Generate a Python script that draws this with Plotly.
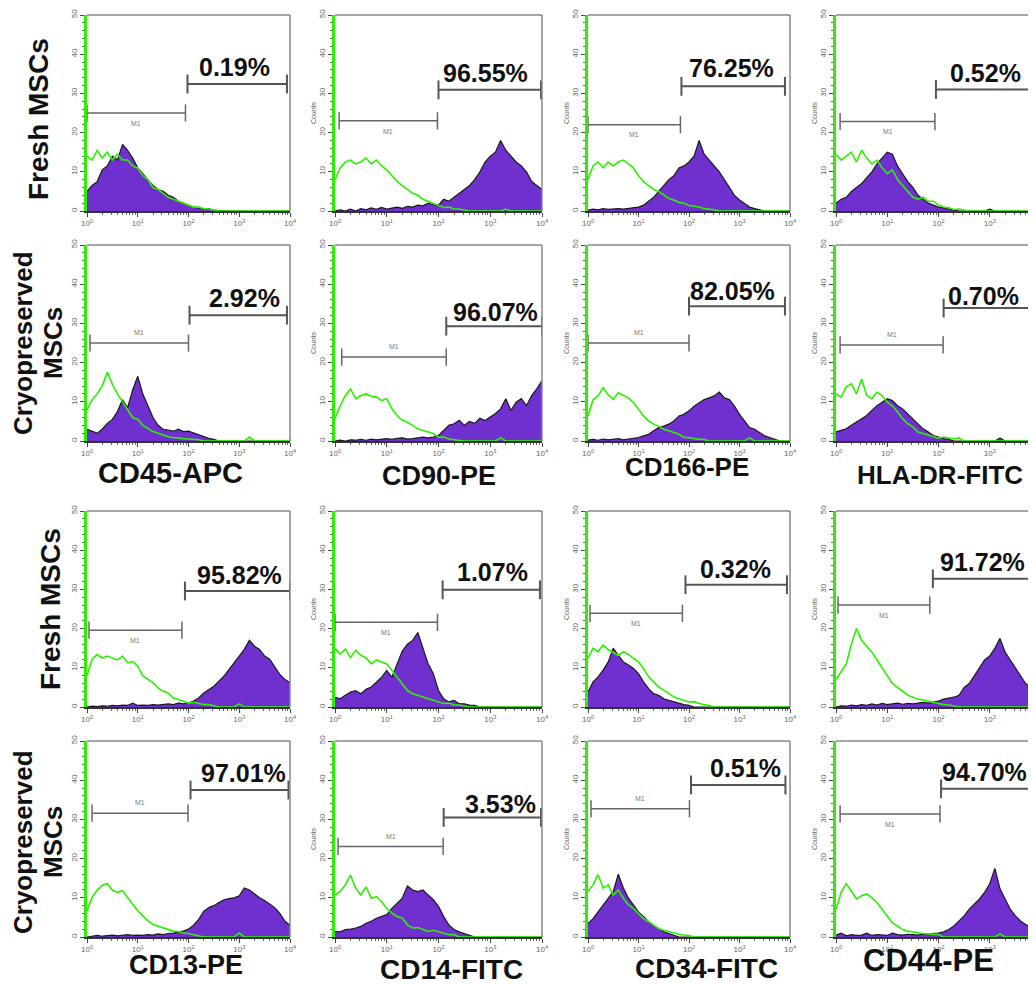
import plotly.graph_objects as go

# page is shown with the browser's default 8px body margin -> compensate
PAGE_W, PAGE_H = 1036, 984
OFF = 8
W, H = PAGE_W - OFF, PAGE_H - OFF

# ---------------- data ----------------
# histogram bins: log10 fluorescence 0.0 .. 4.0 in steps of 0.1
LOG_BINS = [i / 10 for i in range(41)]

markers = ["CD45-APC", "CD90-PE", "CD166-PE", "HLA-DR-FITC",
           "CD13-PE", "CD14-FITC", "CD34-FITC", "CD44-PE"]
conditions = ["Fresh MSCs", "Cryopreserved", "MSCs"]
x_tick_vals = [1, 10, 100, 1000, 10000]
x_tick_text = ["10<sup>0</sup>", "10<sup>1</sup>", "10<sup>2</sup>", "10<sup>3</sup>", "10<sup>4</sup>"]
y_tick_vals = [0, 10, 20, 30, 40, 50]

percent_labels = ["0.19%", "96.55%", "76.25%", "0.52%",
                  "2.92%", "96.07%", "82.05%", "0.70%",
                  "95.82%", "1.07%", "0.32%", "91.72%",
                  "97.01%", "3.53%", "0.51%", "94.70%"]

# M1 gate (log10 start, log10 end, count level) per panel
m1_gates = [(0.0, 1.94, 25), (0.08, 1.98, 23), (0.0, 1.83, 22), (0.08, 1.93, 22.8),
            (0.06, 2.0, 25), (0.13, 2.15, 21.4), (0.0, 2.0, 25), (0.08, 2.09, 24.5),
            (0.04, 1.87, 19.6), (0.0, 1.98, 21.6), (0.04, 1.87, 23.9), (0.04, 1.83, 26),
            (0.1, 1.99, 31.6), (0.06, 2.09, 23.1), (0.06, 2.01, 32.7), (0.08, 2.03, 31.4)]
# positive gate (log10 start, log10 end, level) per panel
pos_gates = [(1.98, 3.94, 32.4), (2.0, 3.98, 30.9), (1.85, 3.9, 31.8), (1.95, 3.86, 31),
             (2.02, 3.94, 32.1), (2.15, 4.0, 29.3), (2.0, 3.9, 34.4), (2.1, 3.95, 33.9),
             (1.93, 4.0, 29.6), (2.08, 3.96, 29.9), (1.93, 3.94, 31.2), (1.89, 3.95, 32.7),
             (2.04, 3.97, 37.5), (2.1, 3.98, 30.5), (2.04, 3.91, 38.8), (2.05, 3.95, 37.8)]

# stained sample (purple) and isotype control (green) counts
cd45_fresh_stained = [
    5, 6.5, 7.5, 10.5, 11.5, 14, 13, 17, 15.5, 13.5,
    11, 9.5, 8, 6.5, 5.5, 5, 4, 3.5, 2.5, 2,
    1.5, 1, 0.8, 0.5, 0.6, 0.2, 0.1, 0, 0, 0,
    0, 0, 0, 0, 0, 0, 0, 0, 0, 0, 0]
cd45_fresh_control = [
    14, 13, 15.5, 13.5, 15, 13, 14.5, 13, 13, 11.5,
    11, 9, 8, 6, 5.5, 4.5, 3.5, 3, 2.5, 2,
    1.5, 1, 1, 0.6, 0.5, 0.3, 0, 0, 0, 0,
    0, 0, 0, 0, 0, 0, 0, 0, 0, 0, 0]
cd90_fresh_stained = [
    0, 0.3, 0, 0.5, 0, 0.6, 0.3, 0.8, 0.4, 0.9,
    0.5, 0.8, 1, 0.7, 1.2, 1, 1.5, 1.3, 2, 1.6,
    1.5, 3, 2.5, 3.5, 4.5, 5.5, 6.5, 8, 10, 12.5,
    14, 15, 18, 15.5, 14, 12.5, 11.5, 10, 7.5, 6.5, 5.5]
cd90_fresh_control = [
    8, 11, 12.5, 13, 12, 12.5, 13.5, 12, 13, 11.5,
    10.5, 9, 7.5, 6.5, 5.5, 4.5, 4, 3, 2.5, 2,
    1.5, 0.9, 1, 0.5, 0.5, 0.3, 0, 0, 0, 0,
    0, 0, 0, 0.5, 0, 0, 0, 0, 0, 0, 0]
cd166_fresh_stained = [
    0.2, 0.5, 0.3, 0.6, 0.4, 0.5, 0.6, 0.5, 0.7, 0.9,
    1, 1.5, 2.5, 3.5, 5, 6.5, 8, 9, 11, 11.5,
    12.5, 14, 18, 14.5, 13, 11.5, 10, 8, 6, 4,
    2.8, 1.8, 1, 0.6, 0.3, 0, 0, 0, 0, 0, 0]
cd166_fresh_control = [
    8, 11.5, 12.5, 11, 12.5, 11.5, 12.5, 13, 12, 11,
    9, 7.5, 6.5, 5.5, 5, 4, 3.2, 2.8, 2.2, 2,
    1.4, 1.2, 1, 0.6, 0.5, 0.3, 0, 0, 0, 0,
    0, 0, 0, 0, 0, 0, 0, 0, 0, 0, 0]
hladr_fresh_stained = [
    2, 3, 3.5, 5, 6, 7, 8.5, 10, 12, 13.5,
    15, 14.5, 11.5, 9.5, 7.5, 6, 4, 3, 2, 1.5,
    1, 0.8, 0.4, 0.2, 0, 0, 0, 0, 0, 0,
    0.5, 0, 0, 0, 0, 0, 0, 0, 0, 0, 0]
hladr_fresh_control = [
    14.5, 13, 14, 15, 12.5, 15.5, 13.5, 12, 13, 11,
    9.5, 10.5, 8, 6.5, 5, 3.5, 3, 3.5, 2.5, 2.5,
    1.5, 1, 0.8, 0.4, 0.5, 0.2, 0, 0, 0, 0,
    0, 0, 0, 0, 0, 0, 0, 0, 0, 0, 0]
cd45_cryo_stained = [
    3, 2.5, 2, 3, 4.5, 5.5, 7.5, 10.5, 8.5, 13,
    16.5, 12, 9, 6, 4, 3, 2.8, 2.5, 3, 2.4,
    2.5, 2, 1.5, 1.2, 0.7, 0.4, 0, 0, 0, 0,
    0, 0, 0, 0, 0, 0, 0, 0, 0, 0, 0]
cd45_cryo_control = [
    8, 10.5, 12, 14, 17.5, 14.5, 12, 10, 8, 6,
    5.5, 4, 3.2, 2.4, 2, 1.5, 1.1, 0.9, 0.7, 0.6,
    0.5, 0.4, 0.3, 0, 0, 0, 0, 0, 0, 0,
    0, 0, 1, 0, 0, 0, 0, 0, 0, 0, 0]
cd90_cryo_stained = [
    0, 0.2, 0, 0.3, 0.2, 0.4, 0.2, 0.5, 0.3, 0.5,
    0.6, 0.4, 0.7, 0.8, 0.5, 0.6, 0.8, 1, 0.8, 1,
    1.4, 2.7, 4, 4.4, 5.3, 4, 5, 4.5, 5.8, 5.2,
    6.1, 7, 8.2, 10.8, 7.8, 9.9, 10.8, 9, 11.6, 13.3, 15.4]
cd90_cryo_control = [
    5.7, 9, 11.6, 13.3, 10.8, 11.6, 12, 11.4, 11.2, 10.3,
    10.8, 8.2, 6.5, 5.3, 4.8, 4, 3.1, 2.7, 2.3, 1.9,
    1, 1, 0.5, 0.3, 0.2, 0, 0, 0, 0, 0,
    0, 0, 0.8, 0, 0, 0, 0, 0, 0, 0, 0]
cd166_cryo_stained = [
    0.2, 0.4, 0.2, 0.5, 0.3, 0.4, 0.6, 0.3, 0.5, 0.7,
    0.9, 1.3, 1.7, 2.6, 3.4, 3.8, 4.3, 5.1, 6.4, 6.8,
    7.7, 8.9, 9.8, 10.6, 11, 11.5, 12.5, 11, 10.6, 8.9,
    6.8, 5.1, 3.4, 3, 2.1, 1.3, 0.9, 0.4, 0, 0, 0]
cd166_cryo_control = [
    6.4, 10.5, 11.5, 13.6, 11.8, 10.6, 12.3, 11.6, 11, 9.8,
    8, 6.4, 5.1, 4.3, 3.8, 3, 2.6, 2.1, 1.7, 0.9,
    0.9, 0.6, 0.5, 0.4, 0, 0, 0, 0, 0, 0,
    0, 0, 0.8, 0, 0, 0, 0, 0, 0, 0, 0]
hladr_cryo_stained = [
    2.3, 2.7, 3.1, 4, 4.8, 5.7, 6.5, 7.8, 9, 9.9,
    10.8, 10.3, 9, 8.2, 6.9, 5.7, 4.4, 3.1, 2.3, 1.4,
    1, 0.6, 0.4, 0, 0, 0, 0, 0, 0, 0,
    0, 0, 0.8, 0, 0, 0, 0, 0, 0, 0, 0]
hladr_cryo_control = [
    12, 11.2, 13.8, 14.6, 12, 15.8, 11.6, 10.8, 12.5, 11.6,
    9.9, 9, 7.4, 5.7, 4.4, 3.6, 2.3, 1.9, 1.4, 1,
    0.7, 1, 0.7, 0.5, 0.8, 0, 0, 0, 0, 0,
    0, 0, 0, 0, 0, 0, 0, 0, 0, 0, 0]
cd13_fresh_stained = [
    0, 0.2, 0.1, 0.3, 0.2, 0.4, 0.3, 0.5, 0.4, 1,
    0.4, 0.5, 0.4, 0.6, 0.5, 0.7, 0.8, 0.6, 1, 0.8,
    1, 1.5, 2.3, 3.6, 4.5, 5.3, 6.6, 7.9, 9.6, 11.3,
    13, 14.7, 17, 15.5, 14.7, 13, 12.2, 10.4, 8.3, 7, 6.2]
cd13_fresh_control = [
    8, 12.2, 13.4, 12.5, 13, 12.4, 12, 13, 11.3, 11.6,
    10.4, 7.9, 7, 6.2, 4.9, 4, 3.6, 2.3, 1.9, 1.5,
    1, 1.2, 0.8, 0.6, 0.6, 0.3, 0, 0, 0, 0,
    0.8, 0, 0, 0, 0, 0, 0, 0, 0, 0, 0]
cd14_fresh_stained = [
    2.5, 2.1, 3, 3.8, 4.2, 3.4, 4.5, 5.1, 6.3, 7.6,
    9.3, 7.6, 11, 14.3, 16, 17, 19, 15.2, 11, 8.5,
    4.2, 2.1, 1.3, 1.7, 0.8, 0.8, 0.5, 0.4, 0, 0,
    0, 0, 0, 0, 0, 0, 0, 0, 0, 0, 0]
cd14_fresh_control = [
    15, 13.5, 14.8, 12.6, 14.5, 13.2, 12.5, 11, 12, 11.4,
    11, 9.3, 7.6, 5.9, 4.2, 3.4, 3, 2.5, 2.1, 1.7,
    1.3, 0.9, 1, 0.5, 0.5, 0.2, 0, 0, 0, 0,
    0, 0, 0, 0, 0, 0, 0, 0, 0, 0, 0]
cd34_fresh_stained = [
    3.8, 6.4, 7.7, 9.4, 11.5, 15, 13.2, 11.5, 10.7, 9.8,
    8.5, 6.4, 4.7, 3.4, 3, 2.1, 1.7, 1.3, 0.9, 0.6,
    0.4, 0, 0, 0, 0, 0, 0, 0, 0, 0,
    0, 0, 0, 0, 0, 0, 0, 0, 0, 0, 0]
cd34_fresh_control = [
    12.4, 15, 14.1, 15.8, 14.6, 14, 13.2, 14.1, 13.4, 12.4,
    11.5, 9.8, 7.7, 6.4, 5.1, 4.3, 3.4, 2.6, 2.1, 1.7,
    1.3, 1.3, 0.9, 0.6, 0.4, 0, 0, 0, 0, 0,
    0, 0, 0, 0, 0, 0, 0, 0, 0, 0, 0]
cd44_fresh_stained = [
    0, 0.3, 0.2, 0.5, 0.3, 0.6, 0.4, 0.8, 0.5, 0.9,
    0.6, 0.8, 1, 0.7, 0.9, 0.8, 1, 1.2, 1, 1.3,
    1.5, 2, 2.2, 2.5, 3, 5, 6, 8, 10, 12,
    13, 15, 17.5, 14, 12, 10, 8, 6, 5, 4, 3]
cd44_fresh_control = [
    7, 9, 11, 16, 20, 17, 15.5, 14, 12, 10,
    8, 6, 5, 4, 3, 2.5, 2, 1.8, 1.5, 1.2,
    1, 0.6, 0.5, 0.3, 0, 0, 0, 0, 0, 0,
    0, 0, 0, 0, 0, 0, 0, 0, 0, 0, 0]
cd13_cryo_stained = [
    0, 0.2, 0.4, 0.2, 0.3, 0.5, 0.3, 0.4, 0.6, 0.4,
    0.5, 0.4, 0.6, 0.5, 0.8, 0.6, 0.9, 1, 1.2, 1.5,
    2, 3, 4.5, 6.5, 7.5, 8, 8.8, 9.5, 9.8, 10,
    10.5, 12.5, 12, 11, 10, 9.3, 8.5, 7.5, 6, 4, 3]
cd13_cryo_control = [
    6.7, 10.1, 11.9, 13.2, 13.6, 11.9, 11.4, 11.8, 10.1, 8.4,
    6.7, 5.4, 4.1, 3.2, 2.8, 2.3, 1.9, 1.5, 1.4, 1,
    0.9, 0.6, 0.4, 0, 0, 0, 0, 0, 0, 0,
    1, 0, 0, 0, 0, 0, 0, 0, 0, 0, 0]
cd14_cryo_stained = [
    1.4, 1.3, 1.9, 2, 2.3, 2.7, 3.5, 4, 4.8, 5.2,
    5.7, 7.3, 8.6, 9.9, 13, 12, 11.6, 12, 10.7, 9.5,
    7.8, 5.2, 3.1, 1.9, 1.3, 0.8, 0.4, 0, 0, 0,
    0, 0, 0, 0, 0, 0, 0, 0, 0, 0, 0]
cd14_cryo_control = [
    10.7, 11.6, 13.3, 15.8, 12.4, 10.7, 12.8, 9.9, 10.3, 9,
    7.3, 6.1, 5.2, 4.8, 3.1, 2.3, 2.4, 1.9, 1.4, 1.7,
    1.3, 1, 0.6, 0.6, 0, 0, 0, 0, 0, 0,
    0, 0, 0, 0, 0, 0, 0, 0, 0, 0, 0]
cd34_cryo_stained = [
    3.4, 4.7, 6.4, 8.2, 9.9, 11.6, 16, 12.5, 9.9, 8.2,
    6.4, 5.2, 3.9, 3, 2.1, 1.3, 0.9, 0.5, 0, 0,
    0, 0, 0, 0, 0, 0, 0, 0, 0, 0,
    0, 0, 0, 0, 0, 0, 0, 0, 0, 0, 0]
cd34_cryo_control = [
    11.6, 13.3, 15.9, 12.5, 13.3, 10.7, 12, 9.9, 8.2, 7.3,
    6, 4.7, 3.9, 3, 2.1, 1.7, 1.3, 0.9, 0.7, 0.5,
    0.4, 0, 0, 0, 0, 0, 0, 0, 0, 0,
    0, 0, 0, 0, 0, 0, 0, 0, 0, 0, 0]
cd44_cryo_stained = [
    0.5, 1, 0.3, 0.6, 0.4, 0.5, 1, 0.4, 0.6, 0.5,
    0.4, 1, 0.6, 0.5, 0.7, 0.6, 0.5, 0.8, 0.7, 0.9,
    1, 1.3, 1.9, 2.8, 4.1, 5.4, 7.1, 8.4, 9.7, 11.4,
    13.6, 17.5, 12.3, 9.7, 7.1, 5.4, 4.1, 3.2, 2.5, 1.9, 1.5]
cd44_cryo_control = [
    7, 11.4, 13.6, 11.5, 9.7, 10.5, 11, 10, 8.8, 7.1,
    5.4, 3.6, 2.8, 1.9, 1.5, 1.3, 1, 0.9, 0.8, 0.7,
    0.6, 0, 0, 0, 0, 0, 0, 0, 0, 0,
    0, 0, 0.8, 0, 0, 0, 0, 0, 0, 0, 0]

stained = [cd45_fresh_stained, cd90_fresh_stained, cd166_fresh_stained, hladr_fresh_stained,
           cd45_cryo_stained, cd90_cryo_stained, cd166_cryo_stained, hladr_cryo_stained,
           cd13_fresh_stained, cd14_fresh_stained, cd34_fresh_stained, cd44_fresh_stained,
           cd13_cryo_stained, cd14_cryo_stained, cd34_cryo_stained, cd44_cryo_stained]
control = [cd45_fresh_control, cd90_fresh_control, cd166_fresh_control, hladr_fresh_control,
           cd45_cryo_control, cd90_cryo_control, cd166_cryo_control, hladr_cryo_control,
           cd13_fresh_control, cd14_fresh_control, cd34_fresh_control, cd44_fresh_control,
           cd13_cryo_control, cd14_cryo_control, cd34_cryo_control, cd44_cryo_control]

# ---------------- layout config (page pixels) ----------------
col_left = [87, 335, 588, 836]
col_right = [290, 542, 790, 1036]
row_top = [15, 245, 511, 741]
row_bot = [211, 441, 707, 937]
DECADE_PX = 205 / 4.0

m1_label_above = [False, False, False, False,
                  True, True, True, True,
                  False, False, False, False,
                  True, True, True, False]
pct_text_pos = [(2.90, 36.7), (2.90, 35.2), (2.85, 36.4), (2.91, 35.3),
                (3.11, 36.5), (3.11, 33.0), (2.87, 38.3), (2.87, 37.0),
                (3.01, 33.8), (3.05, 34.4), (2.93, 35.2), (2.85, 37.0),
                (3.09, 41.8), (3.20, 34.0), (3.12, 43.1), (2.89, 42.1)]

# x label (center px x, center px y, font size) for each marker
marker_label_pos = [(170, 473, 29), (439, 476, 27), (687, 467, 26), (940, 475, 26),
                    (186, 965, 27), (451, 969, 28), (706, 968, 28), (928, 960, 31)]
# condition labels: (text index, center px x, center px y, size)
condition_label_pos = [(0, 38, 119, 28),
                       (1, 23, 343, 26), (2, 53, 343, 26),
                       (0, 50, 609, 28),
                       (1, 23, 842, 26), (2, 53, 842, 26)]

PURPLE = "#7030d0"
GREEN = "#2cf000"
FONT = "Liberation Sans, Arial, sans-serif"


def fx(px):
    return (px - OFF) / W


def fy(py):
    return 1 - (py - OFF) / H


minor_x = [m * 10 ** k for k in range(4) for m in range(2, 10)]

fig = go.Figure()
layout = dict(width=W, height=H, margin=dict(l=0, r=0, t=0, b=0, autoexpand=False),
              paper_bgcolor="white", plot_bgcolor="white", showlegend=False)
annotations = []
shapes = []

for p in range(16):
    r, c = divmod(p, 4)
    i = p + 1
    xa = "x" if i == 1 else f"x{i}"
    ya = "y" if i == 1 else f"y{i}"
    l, rr = col_left[c], col_right[c]
    t, b = row_top[r], row_bot[r]
    xmax = 4.0 if c < 3 else (rr - l) / DECADE_PX

    layout["xaxis" if i == 1 else f"xaxis{i}"] = dict(
        domain=[fx(l), min(1.0, fx(rr))], type="log", range=[0, xmax], anchor=ya,
        automargin=False,
        showline=True, linecolor="#333", linewidth=1.5,
        ticks="outside", ticklen=4, tickwidth=1, tickcolor="#444",
        tickvals=x_tick_vals, ticktext=x_tick_text,
        tickfont=dict(size=8, color="#666", family=FONT),
        minor=dict(ticks="outside", ticklen=2, tickcolor="#666", tickvals=minor_x, showgrid=False),
        showgrid=False, zeroline=False)
    yax = dict(
        domain=[fy(b), fy(t)], range=[0, 50], anchor=xa,
        automargin=False,
        showline=True, linecolor=GREEN, linewidth=2.5,
        ticks="outside", ticklen=4, tickwidth=1, tickcolor="#444",
        tickvals=y_tick_vals, tickangle=-90,
        tickfont=dict(size=8, color="#666", family=FONT),
        minor=dict(ticks="outside", ticklen=2, tickcolor="#666", dtick=2, showgrid=False),
        showgrid=False, zeroline=False)
    if c > 0:
        yax["title"] = dict(text="Counts", font=dict(size=7, color="#666", family=FONT), standoff=1)
    layout["yaxis" if i == 1 else f"yaxis{i}"] = yax

    # top and right frame lines
    shapes.append(dict(type="line", xref=f"{xa} domain", yref=f"{ya} domain",
                       x0=0, x1=1, y0=1, y1=1, line=dict(color="#888", width=1.5)))
    if c < 3:
        shapes.append(dict(type="line", xref=f"{xa} domain", yref=f"{ya} domain",
                           x0=1, x1=1, y0=0, y1=1, line=dict(color="#888", width=1.5)))

    sy = stained[p]
    cy = control[p]
    fig.add_trace(go.Scatter(x=[10 ** v for v in LOG_BINS[:len(sy)]], y=sy, mode="lines",
                             fill="tozeroy", fillcolor=PURPLE,
                             line=dict(color="#1a1a1a", width=1.2),
                             xaxis=xa, yaxis=ya, hoverinfo="skip"))
    fig.add_trace(go.Scatter(x=[10 ** v for v in LOG_BINS[:len(cy)]], y=cy, mode="lines",
                             line=dict(color=GREEN, width=1.6),
                             xaxis=xa, yaxis=ya, hoverinfo="skip"))

    # M1 gate bracket
    g0, g1, gy = m1_gates[p]
    h = 2.2
    fig.add_trace(go.Scatter(
        x=[10 ** g0, 10 ** g1, None, 10 ** g0, 10 ** g0, None, 10 ** g1, 10 ** g1],
        y=[gy, gy, None, gy - h, gy + h, None, gy - h, gy + h],
        mode="lines", line=dict(color="#666", width=1.5), xaxis=xa, yaxis=ya,
        hoverinfo="skip", cliponaxis=False))
    annotations.append(dict(xref=xa, yref=ya, x=(g0 + g1) / 2,
                            y=gy + (2.6 if m1_label_above[p] else -2.6),
                            text="M1", showarrow=False,
                            font=dict(size=7, color="#777", family=FONT)))
    # positive gate bracket
    q0, q1, qy = pos_gates[p]
    h2 = 2.4
    fig.add_trace(go.Scatter(
        x=[10 ** q0, 10 ** q1, None, 10 ** q0, 10 ** q0, None, 10 ** q1, 10 ** q1],
        y=[qy, qy, None, qy - h2, qy + h2, None, qy - h2, qy + h2],
        mode="lines", line=dict(color="#555", width=2), xaxis=xa, yaxis=ya,
        hoverinfo="skip", cliponaxis=False))
    tx, ty = pct_text_pos[p]
    annotations.append(dict(xref=xa, yref=ya, x=tx, y=ty, text=f"<b>{percent_labels[p]}</b>",
                            showarrow=False, xanchor="center", yanchor="middle",
                            font=dict(size=25, color="#111", family=FONT)))

for k, name in enumerate(markers):
    px, py, fs = marker_label_pos[k]
    annotations.append(dict(xref="paper", yref="paper", x=fx(px), y=fy(py),
                            text=f"<b>{name}</b>", showarrow=False,
                            xanchor="center", yanchor="middle",
                            font=dict(size=fs, color="#111", family=FONT)))

for ti, px, py, fs in condition_label_pos:
    annotations.append(dict(xref="paper", yref="paper", x=fx(px), y=fy(py),
                            text=f"<b>{conditions[ti]}</b>", showarrow=False,
                            xanchor="center", yanchor="middle", textangle=-90,
                            font=dict(size=fs, color="#111", family=FONT)))

layout["annotations"] = annotations
layout["shapes"] = shapes
fig.update_layout(**layout)
fig.write_html("out.html")
